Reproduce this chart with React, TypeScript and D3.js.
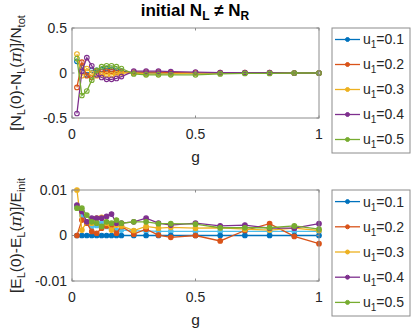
import * as d3 from "d3";
import React from "react";

const W = 411;
const H = 328;
const FONT = "'Liberation Sans', Arial, Helvetica, sans-serif";

// g values
const gVals = [0.02, 0.04, 0.06, 0.08, 0.1, 0.12, 0.14, 0.16, 0.18, 0.2, 0.25, 0.3, 0.35, 0.4, 0.5, 0.6, 0.7, 0.8, 0.9, 1.0];

const seriesNames = ["0.1", "0.2", "0.3", "0.4", "0.5"];
const colors = ["#0072BD", "#D95319", "#EDB120", "#7E2F8E", "#77AC30"];
const extraColor = "#4DBEEE";

// top panel: [N_L(0)-N_L(pi)]/N_tot
const nU1 = [0.13, 0.06, -0.02, 0.03, 0.03, 0.04, 0.05, 0.04, 0.03, 0.02, 0.0, 0.0, 0.0, 0.0, 0.0, 0.0, 0.0, 0.0, 0.0, 0.0];
const nU2 = [-0.16, 0.12, -0.03, -0.05, 0.02, 0.01, 0.02, 0.02, 0.01, 0.01, 0.01, 0.01, 0.01, 0.005, 0.005, 0.005, 0.005, 0.005, 0.0, 0.0];
const nU3 = [0.21, -0.03, 0.05, 0.0, -0.03, -0.02, -0.02, -0.02, -0.01, 0.0, 0.0, -0.01, -0.01, -0.01, 0.0, 0.0, 0.0, 0.0, 0.0, 0.0];
const nU4 = [-0.45, 0.02, 0.17, 0.08, -0.02, -0.05, -0.07, -0.07, -0.06, -0.04, 0.02, 0.02, 0.02, 0.015, 0.01, 0.005, 0.005, 0.005, 0.0, 0.0];
const nU5 = [0.16, -0.25, -0.2, -0.08, 0.03, 0.07, 0.08, 0.08, 0.07, 0.05, -0.01, -0.02, -0.02, -0.02, -0.02, -0.01, -0.005, -0.005, 0.0, 0.0];

// bottom panel: [E_L(0)-E_L(pi)]/E_init
const eU1 = [0, 0, 0, 0, 0, 0, 0, 0, 0, 0, 0, 0, 0, 0, 0, 0, 0, 0, 0, 0];
const eU2 = [0, 0.0034, 0.0027, 0.0009, 0.0005, 0.0016, 0.0021, 0.0021, 0.0005, 0.002, 0.0003, 0.0014, 0.0001, -0.0004, 0.0, -0.0012, 0.0011, 0.0026, -0.0002, -0.0018];
const eU3 = [0.01, 0.0012, 0.003, 0.0027, 0.0038, 0.004, 0.0027, 0.0012, 0.0023, 0.0021, 0.0011, 0.002, 0.0016, 0.0018, 0.0016, 0.0017, 0.0014, 0.0012, 0.0016, 0.0011];
const eU4 = [0.0067, 0.0053, 0.003, 0.0038, 0.0038, 0.0038, 0.0042, 0.0047, 0.0027, 0.0027, 0.003, 0.0038, 0.0027, 0.0023, 0.0027, 0.0021, 0.0023, 0.0016, 0.0016, 0.0026];
const eU5 = [0.006, 0.006, 0.0045, 0.003, 0.0027, 0.002, 0.003, 0.0027, 0.0034, 0.0027, 0.003, 0.003, 0.0026, 0.0026, 0.0025, 0.0017, 0.0017, 0.0017, 0.0021, 0.0014];
const eExtra = [0.0064, 0.0045, 0.0027, 0.002, 0.0022, 0.0027, 0.002, 0.0015, 0.0012, 0.0012, 0.001, 0.001, 0.0009, 0.0009, 0.0009, 0.0009, 0.0009, 0.0009, 0.0009, 0.0009];

const xTicks = [0, 0.5, 1];

const x = d3.scaleLinear().domain([0, 1]).range([72, 319]);

type PanelProps = {
  top: number;
  bottom: number;
  yDomain: [number, number];
  yTicks: number[];
  yTickLabels: string[];
  series: number[][];
  extra?: number[];
  filled: boolean;
  yLabel: React.ReactNode;
};

const Panel = ({ top, bottom, yDomain, yTicks, yTickLabels, series, extra, filled, yLabel }: PanelProps) => {
  const y = d3.scaleLinear().domain(yDomain).range([bottom, top]);
  const line = d3
    .line<number>()
    .x((d, i) => x(gVals[i]))
    .y((d) => y(d));
  const [x0, x1] = x.range();
  const tl = 2.5;

  const drawSeries = (vals: number[], color: string, key: string) => (
    <g key={key}>
      <path d={line(vals) || ""} fill="none" stroke={color} strokeWidth={1.3} />
      {vals.map((v, i) => (
        <circle
          key={i}
          cx={x(gVals[i])}
          cy={y(v)}
          r={2.3}
          fill={filled ? color : "none"}
          stroke={color}
          strokeWidth={1.1}
        />
      ))}
    </g>
  );

  return (
    <g>
      <rect x={x0} y={top} width={x1 - x0} height={bottom - top} fill="white" />
      <g>
        {extra && drawSeries(extra, extraColor, "extra")}
        {series.map((s, i) => drawSeries(s, colors[i], "s" + i))}
      </g>
      <rect x={x0} y={top} width={x1 - x0} height={bottom - top} fill="none" stroke="#8c8c8c" strokeWidth={1} />
      {yTicks.map((t, i) => (
        <g key={"yt" + i}>
          <line x1={x0} x2={x0 + tl} y1={y(t)} y2={y(t)} stroke="#8c8c8c" />
          <line x1={x1} x2={x1 - tl} y1={y(t)} y2={y(t)} stroke="#8c8c8c" />
          <text x={x0 - 5} y={y(t)} dy="0.35em" textAnchor="end" fontSize={14} fill="#262626" fontFamily={FONT}>
            {yTickLabels[i]}
          </text>
        </g>
      ))}
      {xTicks.map((t, i) => (
        <g key={"xt" + i}>
          <line x1={x(t)} x2={x(t)} y1={bottom} y2={bottom - tl} stroke="#8c8c8c" />
          <line x1={x(t)} x2={x(t)} y1={top} y2={top + tl} stroke="#8c8c8c" />
          <text x={x(t)} y={bottom + 21} textAnchor="middle" fontSize={14} fill="#262626" fontFamily={FONT}>
            {d3.format("~g")(t)}
          </text>
        </g>
      ))}
      <text x={(x0 + x1) / 2} y={bottom + 44} textAnchor="middle" fontSize={15.5} fill="#262626" fontFamily={FONT}>
        g
      </text>
      <text
        transform={`translate(21, ${(top + bottom) / 2}) rotate(-90)`}
        textAnchor="middle"
        fontSize={15.5}
        fill="#262626"
        fontFamily={FONT}
      >
        {yLabel}
      </text>
    </g>
  );
};

const Legend = ({ top, bottom }: { top: number; bottom: number }) => {
  const left = 332;
  const right = 410;
  const step = (bottom - top) / seriesNames.length;
  return (
    <g>
      <rect x={left} y={top} width={right - left} height={bottom - top} fill="white" stroke="#8c8c8c" />
      {seriesNames.map((n, i) => {
        const cy = top + step * (i + 0.5) - 1;
        return (
          <g key={n}>
            <line x1={335} x2={360} y1={cy} y2={cy} stroke={colors[i]} strokeWidth={1.3} />
            <circle cx={347.5} cy={cy} r={2} fill={colors[i]} stroke={colors[i]} />
            <text x={363} y={cy} dy="0.35em" fontSize={14} fill="#262626" fontFamily={FONT}>
              u
              <tspan fontSize={10} dy={4}>1</tspan>
              <tspan dy={-4}>={n}</tspan>
            </text>
          </g>
        );
      })}
    </g>
  );
};

const Sub = ({ children, dy = 4, size = 11 }: { children: React.ReactNode; dy?: number; size?: number }) => (
  <tspan fontSize={size} dy={dy}>
    {children}
  </tspan>
);

const App = () => {
  const topLabel = (
    <>
      [N<Sub>L</Sub>
      <tspan dy={-4}>(0)-N</tspan>
      <Sub>L</Sub>
      <tspan dy={-4}>(</tspan>
      <tspan fontFamily="'DejaVu Serif', serif" fontStyle="italic">π</tspan>
      <tspan>)]/N</tspan>
      <Sub>tot</Sub>
    </>
  );
  const bottomLabel = (
    <>
      [E<Sub>L</Sub>
      <tspan dy={-4}>(0)-E</tspan>
      <Sub>L</Sub>
      <tspan dy={-4}>(</tspan>
      <tspan fontFamily="'DejaVu Serif', serif" fontStyle="italic">π</tspan>
      <tspan>)]/E</tspan>
      <Sub>init</Sub>
    </>
  );

  return (
    <svg width={W} height={H} style={{ position: "absolute", left: 0, top: 0, background: "white" }}>
      <rect width={W} height={H} fill="white" />
      <text x={195} y={16} textAnchor="middle" fontSize={17} fontWeight="bold" fill="#000" fontFamily={FONT}>
        initial N<Sub size={12}>L</Sub>
        <tspan dy={-4}> ≠ N</tspan>
        <Sub size={12}>R</Sub>
      </text>
      <Panel
        top={28}
        bottom={118}
        yDomain={[-0.5, 0.5]}
        yTicks={[-0.5, 0, 0.5]}
        yTickLabels={["-0.5", "0", "0.5"]}
        series={[nU1, nU2, nU3, nU4, nU5]}
        filled={false}
        yLabel={topLabel}
      />
      <Legend top={28} bottom={153} />
      <Panel
        top={190}
        bottom={281}
        yDomain={[-0.01, 0.01]}
        yTicks={[-0.01, 0, 0.01]}
        yTickLabels={["-0.01", "0", "0.01"]}
        series={[eU1, eU2, eU3, eU4, eU5]}
        extra={eExtra}
        filled={true}
        yLabel={bottomLabel}
      />
      <Legend top={190} bottom={316} />
    </svg>
  );
};

export default App;
